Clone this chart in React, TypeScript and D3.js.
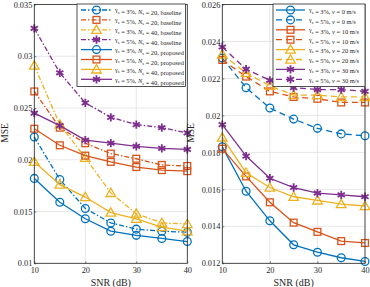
import * as d3 from 'd3'
import { useEffect, useRef } from 'react'

// shared x values
const snr = [10, 15, 20, 25, 30, 35, 40]

// left panel: baseline vs proposed
const leftYTicks = [0.01, 0.015, 0.02, 0.025, 0.03, 0.035]
const blueBase = [0.0222, 0.0181, 0.0153, 0.0139, 0.0133, 0.0131, 0.013]
const orangeBase = [0.0266, 0.0231, 0.0216, 0.0206, 0.0201, 0.0195, 0.0194]
const yellowBase = [0.0291, 0.0234, 0.0202, 0.0168, 0.0148, 0.0139, 0.0138]
const purpleBase = [0.0327, 0.0284, 0.0255, 0.0241, 0.0234, 0.0231, 0.0226]
const blueProp = [0.0182, 0.0159, 0.0143, 0.0131, 0.0127, 0.0124, 0.0121]
const orangeProp = [0.023, 0.0214, 0.0204, 0.0198, 0.0193, 0.019, 0.0189]
const yellowProp = [0.0198, 0.0176, 0.0164, 0.0149, 0.0143, 0.0135, 0.0131]
const purpleProp = [0.0245, 0.0233, 0.0219, 0.0216, 0.0213, 0.0211, 0.021]
const leftLabels = [
  ['3%', '20', 'baseline'],
  ['5%', '20', 'baseline'],
  ['3%', '40', 'baseline'],
  ['5%', '40', 'baseline'],
  ['3%', '20', 'proposed'],
  ['5%', '20', 'proposed'],
  ['3%', '40', 'proposed'],
  ['5%', '40', 'proposed'],
]

// right panel: velocity
const rightYTicks = [0.012, 0.014, 0.016, 0.018, 0.02, 0.022, 0.024, 0.026]
const blueV0g3 = [0.0183, 0.0159, 0.0143, 0.013, 0.0126, 0.0123, 0.0121]
const blueV0g5 = [0.0231, 0.0215, 0.0204, 0.0198, 0.0193, 0.019, 0.0189]
const orangeV10g3 = [0.0182, 0.0167, 0.0153, 0.0142, 0.0137, 0.0132, 0.0131]
const orangeV10g5 = [0.023, 0.0221, 0.0213, 0.021, 0.0209, 0.0207, 0.0207]
const yellowV20g3 = [0.0188, 0.0169, 0.0161, 0.0156, 0.0154, 0.0152, 0.0151]
const yellowV20g5 = [0.0233, 0.0223, 0.0216, 0.0211, 0.0211, 0.021, 0.021]
const purpleV30g3 = [0.0195, 0.0178, 0.0166, 0.0161, 0.0158, 0.0157, 0.0156]
const purpleV30g5 = [0.0237, 0.0225, 0.0219, 0.0215, 0.0214, 0.0214, 0.0213]
const rightLabels = [
  ['3%', '0'],
  ['5%', '0'],
  ['3%', '10'],
  ['5%', '10'],
  ['3%', '20'],
  ['5%', '20'],
  ['3%', '30'],
  ['5%', '30'],
]

const BLUE = '#0072BD'
const ORANGE = '#D95319'
const YELLOW = '#EDB120'
const PURPLE = '#7E2F8E'
const FONT = '"Liberation Serif", "Times New Roman", serif'

type Marker = 'circle' | 'square' | 'triangle' | 'star'
interface Series {
  values: number[]
  color: string
  marker: Marker
  dash: string | null
}

const App = () => {
  const svgRef = useRef<SVGSVGElement>(null)

  useEffect(() => {
    const svg = d3.select(svgRef.current)
    svg.selectAll('*').remove()

    const top = 4.5
    const bottom = 263.3

    const drawMarker = (g: any, m: Marker, x: number, y: number, color: string) => {
      if (m === 'circle') {
        g.append('circle').attr('cx', x).attr('cy', y).attr('r', 3.9)
          .attr('fill', 'none').attr('stroke', color).attr('stroke-width', 1.3)
      } else if (m === 'square') {
        g.append('rect').attr('x', x - 3.4).attr('y', y - 3.4).attr('width', 6.8).attr('height', 6.8)
          .attr('fill', 'none').attr('stroke', color).attr('stroke-width', 1.3)
      } else if (m === 'triangle') {
        g.append('path').attr('d', d3.symbol(d3.symbolTriangle, 40)())
          .attr('transform', `translate(${x},${y + 0.8})`)
          .attr('fill', 'none').attr('stroke', color).attr('stroke-width', 1.3)
      } else {
        g.append('path').attr('d', d3.symbol(d3.symbolAsterisk, 48)())
          .attr('transform', `translate(${x},${y})`)
          .attr('fill', 'none').attr('stroke', color).attr('stroke-width', 1.8)
      }
    }

    const drawPanel = (
      x0: number,
      x1: number,
      yDomain: [number, number],
      yTicks: number[],
      series: Series[],
      msex: number,
    ) => {
      const xScale = d3.scaleLinear().domain([10, 40]).range([x0, x1])
      const yScale = d3.scaleLinear().domain(yDomain).range([bottom, top])
      const g = svg.append('g')

      // grid
      g.append('g').selectAll('line').data(snr.filter((d) => d % 10 === 0)).enter().append('line')
        .attr('x1', (d) => xScale(d)).attr('x2', (d) => xScale(d))
        .attr('y1', top).attr('y2', bottom)
        .attr('stroke', '#dcdcdc').attr('stroke-width', 0.7)
      g.append('g').selectAll('line').data(yTicks).enter().append('line')
        .attr('x1', x0).attr('x2', x1)
        .attr('y1', (d) => yScale(d)).attr('y2', (d) => yScale(d))
        .attr('stroke', '#dcdcdc').attr('stroke-width', 0.7)

      // axes
      const xAxis = d3.axisBottom(xScale).tickValues([10, 20, 30, 40]).tickSize(-2).tickPadding(3.5)
      const ax = g.append('g').attr('transform', `translate(0,${bottom})`).call(xAxis)
      ax.select('.domain').remove()
      ax.selectAll('text').attr('font-family', FONT).attr('font-size', 8.3).attr('fill', '#262626')
      ax.selectAll('line').attr('stroke', '#262626').attr('stroke-width', 0.6)

      const yAxis = d3.axisLeft(yScale).tickValues(yTicks).tickSize(-2).tickPadding(2)
        .tickFormat((d) => String(+(d as number).toFixed(3)))
      const ay = g.append('g').attr('transform', `translate(${x0},0)`).call(yAxis)
      ay.select('.domain').remove()
      ay.selectAll('text').attr('font-family', FONT).attr('font-size', 8.3).attr('fill', '#262626')
      ay.selectAll('line').attr('stroke', '#262626').attr('stroke-width', 0.6)

      // series
      series.forEach((s) => {
        const line = d3.line<number>().x((_, i) => xScale(snr[i])).y((d) => yScale(d))
        g.append('path').attr('d', line(s.values)).attr('fill', 'none')
          .attr('stroke', s.color).attr('stroke-width', 1.3)
          .attr('stroke-dasharray', s.dash)
        const mg = g.append('g')
        s.values.forEach((v, i) => drawMarker(mg, s.marker, xScale(snr[i]), yScale(v), s.color))
      })

      // frame
      g.append('rect').attr('x', x0).attr('y', top).attr('width', x1 - x0).attr('height', bottom - top)
        .attr('fill', 'none').attr('stroke', '#262626').attr('stroke-width', 0.8)

      // labels
      g.append('text').attr('x', (x0 + x1) / 2).attr('y', 286).attr('text-anchor', 'middle')
        .attr('font-family', FONT).attr('font-size', 10).attr('fill', '#262626').text('SNR (dB)')
      g.append('text').attr('transform', `translate(${msex},133) rotate(-90)`).attr('text-anchor', 'middle')
        .attr('font-family', FONT).attr('font-size', 9.6).attr('fill', '#262626').text('MSE')
    }

    const dashDot = '5,2,1.5,2'
    const dashed = '6,4'

    const leftSeries: Series[] = [
      { values: blueBase, color: BLUE, marker: 'circle', dash: dashDot },
      { values: orangeBase, color: ORANGE, marker: 'square', dash: dashDot },
      { values: yellowBase, color: YELLOW, marker: 'triangle', dash: dashDot },
      { values: purpleBase, color: PURPLE, marker: 'star', dash: dashDot },
      { values: blueProp, color: BLUE, marker: 'circle', dash: null },
      { values: orangeProp, color: ORANGE, marker: 'square', dash: null },
      { values: yellowProp, color: YELLOW, marker: 'triangle', dash: null },
      { values: purpleProp, color: PURPLE, marker: 'star', dash: null },
    ]
    const rightSeries: Series[] = [
      { values: blueV0g3, color: BLUE, marker: 'circle', dash: null },
      { values: blueV0g5, color: BLUE, marker: 'circle', dash: dashed },
      { values: orangeV10g3, color: ORANGE, marker: 'square', dash: null },
      { values: orangeV10g5, color: ORANGE, marker: 'square', dash: dashed },
      { values: yellowV20g3, color: YELLOW, marker: 'triangle', dash: null },
      { values: yellowV20g5, color: YELLOW, marker: 'triangle', dash: dashed },
      { values: purpleV30g3, color: PURPLE, marker: 'star', dash: null },
      { values: purpleV30g5, color: PURPLE, marker: 'star', dash: dashed },
    ]

    drawPanel(34.3, 187.3, [0.01, 0.035], leftYTicks, leftSeries, 8)
    drawPanel(222.3, 365, [0.012, 0.026], rightYTicks, rightSeries, 194)

    // legends
    const drawLegend = (
      bx0: number,
      bx1: number,
      series: Series[],
      lineX: [number, number],
      textX: number,
      label: (i: number, t: any) => void,
    ) => {
      const lg = svg.append('g')
      lg.append('rect').attr('x', bx0).attr('y', 4).attr('width', bx1 - bx0).attr('height', 82.5)
        .attr('fill', 'white').attr('stroke', '#262626').attr('stroke-width', 0.8)
      series.forEach((s, i) => {
        const y = 10 + i * 9.9
        lg.append('line').attr('x1', lineX[0]).attr('x2', lineX[1]).attr('y1', y).attr('y2', y)
          .attr('stroke', s.color).attr('stroke-width', 1.3).attr('stroke-dasharray', s.dash)
        drawMarker(lg, s.marker, (lineX[0] + lineX[1]) / 2, y, s.color)
        const t = lg.append('text').attr('x', textX).attr('y', y + 2.2)
          .attr('font-family', FONT).attr('font-size', 6.4).attr('fill', '#262626')
        label(i, t)
      })
    }

    const sub = (t: any, s: string) => {
      t.append('tspan').attr('font-size', 4.4).attr('dy', 1.6).text(s)
      t.append('tspan').attr('dy', -1.6).text('')
    }

    drawLegend(77, 185.5, leftSeries, [81, 112], 115, (i, t) => {
      const [g, n, kind] = leftLabels[i]
      t.append('tspan').text('γ')
      sub(t, 's')
      t.append('tspan').text(` = ${g}, `)
      t.append('tspan').attr('font-style', 'italic').text('N')
      sub(t, 's')
      t.append('tspan').text(` = ${n}, ${kind}`)
    })

    drawLegend(273, 365, rightSeries, [276, 305], 309, (i, t) => {
      const [g, v] = rightLabels[i]
      t.append('tspan').text('γ')
      sub(t, 's')
      t.append('tspan').text(` = ${g}, `)
      t.append('tspan').attr('font-style', 'italic').text('v')
      t.append('tspan').text(` = ${v} m/s`)
    })
  }, [])

  return (
    <svg
      ref={svgRef}
      width={370}
      height={287}
      style={{ position: 'absolute', left: 0, top: 0, background: 'white' }}
    />
  )
}

export default App
